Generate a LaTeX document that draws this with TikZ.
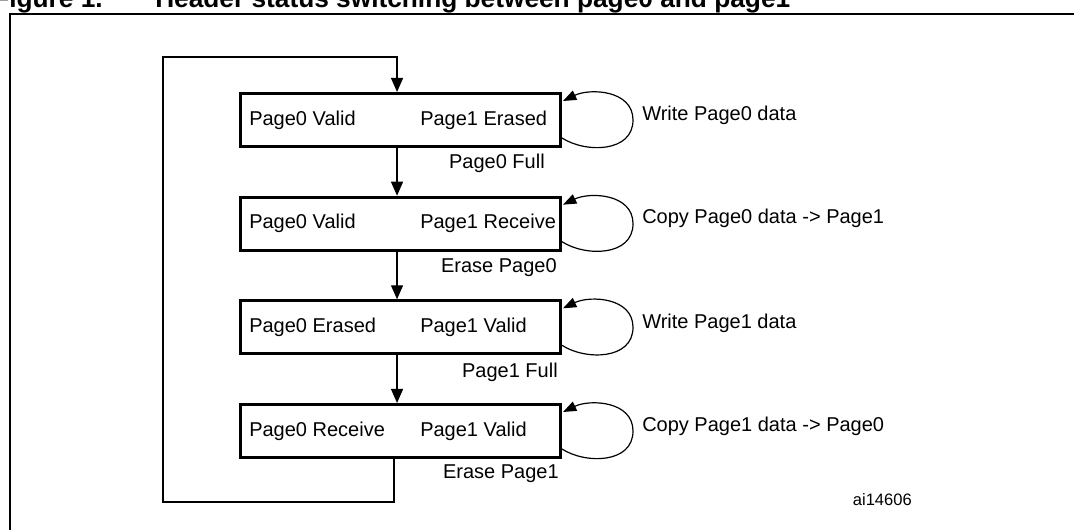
\documentclass[tikz,border=0pt]{standalone}
\usepackage{fontspec}
\setmainfont{Liberation Sans}
\usetikzlibrary{arrows.meta}

\begin{document}
\begin{tikzpicture}[x=0.75pt,y=0.75pt,yscale=-1,xscale=1,
  statebox/.style={draw,line width=2.25pt,minimum width=240pt,minimum height=39.75pt,inner sep=0pt},
  txt/.style={inner sep=0pt,font=\fontsize{15}{18}\selectfont},
  flow/.style={line width=0.9pt,-{Triangle[length=10.5pt,width=9pt]}},
  loopline/.style={line width=0.9pt,-{Triangle[length=10pt,width=7.5pt]}}]
\useasboundingbox (0,0) rectangle (1074,530);

%Frame
\draw [line width=1.6pt] (10,14) rectangle (1095,550);
% Title
\node [anchor=base west,inner sep=0pt,font=\fontsize{19.7}{22}\bfseries\selectfont] (fig) at (-7,8) {Figure 1.};
\node [anchor=base west,inner sep=0pt,font=\fontsize{19.7}{22}\bfseries\selectfont] (title) at (155,8) {Header status switching between page0 and page1};

%Shape: Rectangle
\node [statebox] (b1) at (400.5,120) {};
\node [statebox] (b2) at (400.5,223.7) {};
\node [statebox] (b3) at (400.5,327.3) {};
\node [statebox] (b4) at (400.5,431) {};

% Text Node
\node [txt,anchor=west] (b1l) at (249,120) {Page0 Valid};
\node [txt,anchor=west] (b1r) at (420,120) {Page1 Erased};
\node [txt,anchor=west] (b2l) at (249,223.7) {Page0 Valid};
\node [txt,anchor=west] (b2r) at (420,223.7) {Page1 Receive};
\node [txt,anchor=west] (b3l) at (249,327.3) {Page0 Erased};
\node [txt,anchor=west] (b3r) at (420,327.3) {Page1 Valid};
\node [txt,anchor=west] (b4l) at (249,431) {Page0 Receive};
\node [txt,anchor=west] (b4r) at (420,431) {Page1 Valid};

%Straight Lines
\draw [flow] ([xshift=-2.6pt]b1.south) -- ([xshift=-2.6pt]b2.north);
\draw [flow] ([xshift=-2.6pt]b2.south) -- ([xshift=-2.6pt]b3.north);
\draw [flow] ([xshift=-2.6pt]b3.south) -- ([xshift=-2.6pt]b4.north);
% Text Node
\node [txt,anchor=east] (full0) at (545,163) {Page0 Full};
\node [txt,anchor=east] (erase0) at (557,268) {Erase Page0};
\node [txt,anchor=east] (full1) at (558,372) {Page1 Full};
\node [txt,anchor=east] (erase1) at (559,474) {Erase Page1};

%Straight Lines (back to the first state)
\coordinate (retBL) at (163,502);
\coordinate (retTL) at (163,57);
\draw [flow] ([xshift=-4.9pt]b4.south) |- (retBL) -- (retTL) -| ([xshift=-2.6pt]b1.north);

%Curve Lines
\draw [loopline] ([shift={(0,18)}]b1.east) .. controls ([shift={(23,33)}]b1.east) and ([shift={(71,33)}]b1.east) .. ([shift={(71,0)}]b1.east) .. controls ([shift={(71,-30)}]b1.east) and ([shift={(28,-32)}]b1.east) .. ([shift={(1,-19)}]b1.east);
\draw [loopline] ([shift={(0,18)}]b2.east) .. controls ([shift={(23,33)}]b2.east) and ([shift={(71,33)}]b2.east) .. ([shift={(71,0)}]b2.east) .. controls ([shift={(71,-30)}]b2.east) and ([shift={(28,-32)}]b2.east) .. ([shift={(1,-19)}]b2.east);
\draw [loopline] ([shift={(0,18)}]b3.east) .. controls ([shift={(23,33)}]b3.east) and ([shift={(71,33)}]b3.east) .. ([shift={(71,0)}]b3.east) .. controls ([shift={(71,-30)}]b3.east) and ([shift={(28,-32)}]b3.east) .. ([shift={(1,-19)}]b3.east);
\draw [loopline] ([shift={(0,18)}]b4.east) .. controls ([shift={(23,33)}]b4.east) and ([shift={(71,33)}]b4.east) .. ([shift={(71,0)}]b4.east) .. controls ([shift={(71,-30)}]b4.east) and ([shift={(28,-32)}]b4.east) .. ([shift={(1,-19)}]b4.east);

% Text Node
\node [txt,anchor=west] (act1) at (642,115) {Write Page0 data};
\node [txt,anchor=west] (act2) at (642,218) {Copy Page0 data -> Page1};
\node [txt,anchor=west] (act3) at (642,323) {Write Page1 data};
\node [txt,anchor=west] (act4) at (642,426) {Copy Page1 data -> Page0};
% Text Node
\node [inner sep=0pt,anchor=east,font=\fontsize{12.4}{15}\selectfont] (ref) at (912,500) {ai14606};

\end{tikzpicture}
\end{document}
